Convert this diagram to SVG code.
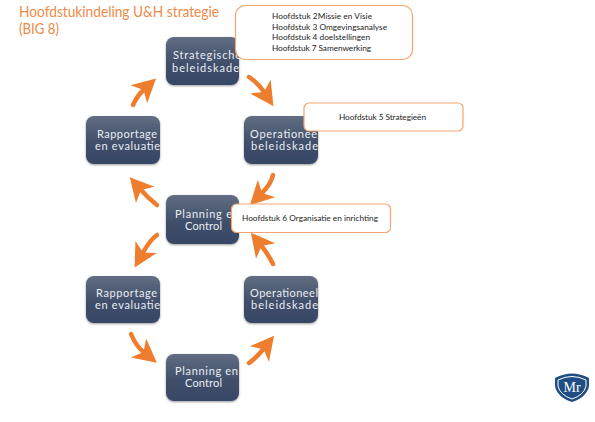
<svg xmlns="http://www.w3.org/2000/svg" width="595" height="422" viewBox="0 0 595 422">
<style>
text{font-family:"Lato","Open Sans","Liberation Sans",sans-serif}
.n{fill:url(#g);filter:url(#s)}
.t{fill:#e9edf2;font-size:11px}
.c{fill:#fff;stroke:#f3a571;stroke-width:1.2}
.l{fill:#1c1c1c;font-size:8.25px}
.a{fill:none;stroke:#ef7d2e;stroke-width:4.500;stroke-linecap:round;marker-end:url(#h)}
.ti{fill:#f08a48;font-size:15px}
</style>
<defs>
<linearGradient id="g" x1="0" y1="0" x2="0" y2="1"><stop offset="0" stop-color="#616e82"/><stop offset="0.55" stop-color="#414f6b"/><stop offset="1" stop-color="#374766"/></linearGradient>
<filter id="s" x="-10%" y="-10%" width="120%" height="125%"><feDropShadow dx="0" dy="1" stdDeviation="1.3" flood-color="#000" flood-opacity="0.4"/></filter>
<marker id="h" markerUnits="userSpaceOnUse" markerWidth="32" markerHeight="32" viewBox="-3 -15 30 30" refX="6" refY="0" orient="auto"><path d="M0,-11.500L22,0L0,11.500L6,0z" fill="#ef7d2e"/></marker>
</defs>
<text class="ti" x="19" y="17" textLength="200" lengthAdjust="spacingAndGlyphs">Hoofdstukindeling U&amp;H strategie</text>
<text class="ti" x="19" y="34" textLength="40" lengthAdjust="spacingAndGlyphs">(BIG 8)</text>
<g id="connectors">
<path class="a" d="M133,105Q137,96 143.5,90"/>
<path class="a" d="M249,77Q258,83 264,92"/>
<path class="a" d="M273,175Q271,184 262,193"/>
<path class="a" d="M157,205Q148,198 141,190"/>
<path class="a" d="M157,235Q150,240 143,252.5"/>
<path class="a" d="M131,334Q136,346 143.5,352"/>
<path class="a" d="M249,363Q257,357 263.4,349"/>
<path class="a" d="M273,264Q268,254 261.6,246"/>
</g>
<g id="node-strategisch"><rect class="n" x="166" y="37" width="73" height="48" rx="8"/><text class="t" x="173" y="59" textLength="68">Strategische</text><text class="t" x="172" y="72" textLength="67">beleidskade</text></g>
<g id="node-rapportage-1"><rect class="n" x="86" y="116" width="74" height="48" rx="8"/><text class="t" x="97" y="138" textLength="60">Rapportage</text><text class="t" x="95" y="150" textLength="65">en evaluatie</text></g>
<g id="node-operationeel-1"><rect class="n" x="244" y="116" width="74" height="48" rx="8"/><text class="t" x="250" y="138" textLength="67">Operationee</text><text class="t" x="251" y="150" textLength="67">beleidskade</text></g>
<g id="node-planning-1"><rect class="n" x="166" y="195" width="73" height="49" rx="8"/><text class="t" x="175" y="218" textLength="57">Planning e</text><text class="t" x="185" y="230" textLength="37">Control</text></g>
<g id="node-rapportage-2"><rect class="n" x="86" y="276" width="74" height="47" rx="8"/><text class="t" x="96" y="297" textLength="61">Rapportage</text><text class="t" x="95" y="309" textLength="65">en evaluatie</text></g>
<g id="node-operationeel-2"><rect class="n" x="244" y="276" width="74" height="47" rx="8"/><text class="t" x="250" y="297" textLength="68">Operationeel</text><text class="t" x="251" y="309" textLength="67">beleidskade</text></g>
<g id="node-planning-2"><rect class="n" x="166" y="354" width="73" height="47" rx="8"/><text class="t" x="175" y="375" textLength="63">Planning en</text><text class="t" x="185" y="387" textLength="37">Control</text></g>
<g id="callout-1"><rect class="c" x="235.500" y="5.500" width="177" height="54" rx="10"/><text class="l" x="272" y="19" textLength="100">Hoofdstuk 2Missie en Visie</text><text class="l" x="272" y="30" textLength="115">Hoofdstuk 3 Omgevingsanalyse</text><text class="l" x="272" y="40" textLength="98">Hoofdstuk 4 doelstellingen</text><text class="l" x="272" y="51" textLength="99">Hoofdstuk 7 Samenwerking</text></g>
<g id="callout-2"><rect class="c" x="304" y="103" width="159" height="28" rx="5"/><text class="l" x="339" y="120" textLength="87">Hoofdstuk 5 Strategieën</text></g>
<g id="callout-3"><rect class="c" x="231.500" y="204" width="159" height="28.500" rx="5"/><text class="l" x="242" y="221" textLength="136">Hoofdstuk 6 Organisatie en inrichting</text></g>
<g id="logo"><path d="M555,378Q572,369 589,378L589,386Q587,397 572,402Q557,397 555,386z" fill="#1f4e85"/><path d="M558,380Q572,373 586,380L586,386Q584,395 572,399Q560,395 558,386z" fill="#1f4e85" stroke="#fff" stroke-width="1"/><text x="572" y="392" font-size="14" fill="#fff" text-anchor="middle" style="font-family:'Liberation Serif',serif">Mr</text></g>
</svg>
